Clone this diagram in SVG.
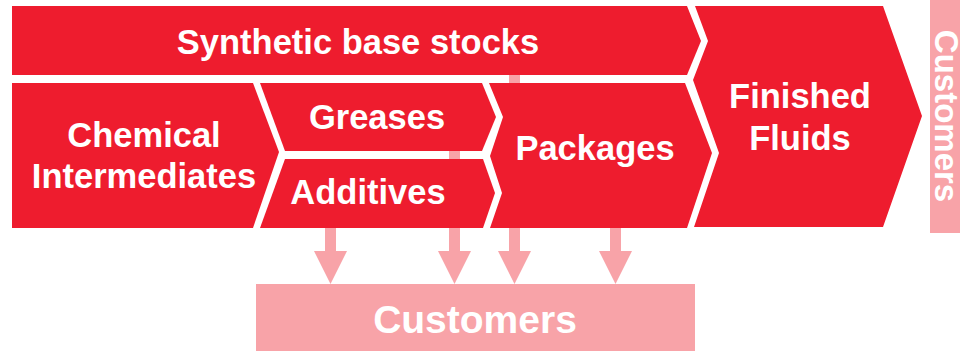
<svg xmlns="http://www.w3.org/2000/svg" width="960" height="351" viewBox="0 0 960 351">
<style>
.n{fill:#EE1C2E}
.p{fill:#F8A3A8}
.t{font-family:"Liberation Sans",Arial,sans-serif;font-weight:bold;fill:#FFFFFF;text-anchor:middle;font-size:34.5px}
</style>
<rect width="960" height="351" fill="#FFFFFF"/>
<g id="connectors" class="p">
<path d="M325,228 H336 V251 H347 L330.5,284 L314,251 H325 Z"/>
<path d="M449,140 H460 V251 H471 L454.5,284 L438,251 H449 Z"/>
<path d="M509,60 H520 V251 H531 L514.5,284 L498,251 H509 Z"/>
<path d="M610,200 H621 V251 H632 L615.5,284 L599,251 H610 Z"/>
</g>
<g id="synthetic">
<polygon class="n" points="12,6 687,6 701,41 687,75 12,75"/>
<text class="t" x="358" y="54">Synthetic base stocks</text>
</g>
<g id="chemical">
<polygon class="n" points="12,83 253,83 279,152 253,228 12,228"/>
<text class="t" x="144" y="147">Chemical</text>
<text class="t" x="144" y="188">Intermediates</text>
</g>
<g id="greases">
<polygon class="n" points="260,83 482,83 496,117 482,151 285,151"/>
<text class="t" x="377" y="129">Greases</text>
</g>
<g id="additives">
<polygon class="n" points="285,159 483,159 495,193 483,228 260,228"/>
<text class="t" x="368" y="204">Additives</text>
</g>
<g id="packages">
<polygon class="n" points="489,83 685,83 712,153 687,228 490,228 502,193 490,156 503,117"/>
<text class="t" x="595" y="160">Packages</text>
</g>
<g id="finished">
<polygon class="n" points="695,6 883,6 922,116 883,227 694,227 719,153 693,80 708,41"/>
<text class="t" x="800" y="108">Finished</text>
<text class="t" x="800" y="150">Fluids</text>
</g>
<g id="customers-right">
<rect class="p" x="930" y="0" width="30" height="233"/>
<text class="t" style="font-size:33px" transform="translate(935,116) rotate(90)">Customers</text>
</g>
<g id="customers-bottom">
<rect class="p" x="256" y="284" width="439" height="67"/>
<text class="t" style="font-size:39px" x="475" y="333">Customers</text>
</g>
</svg>
